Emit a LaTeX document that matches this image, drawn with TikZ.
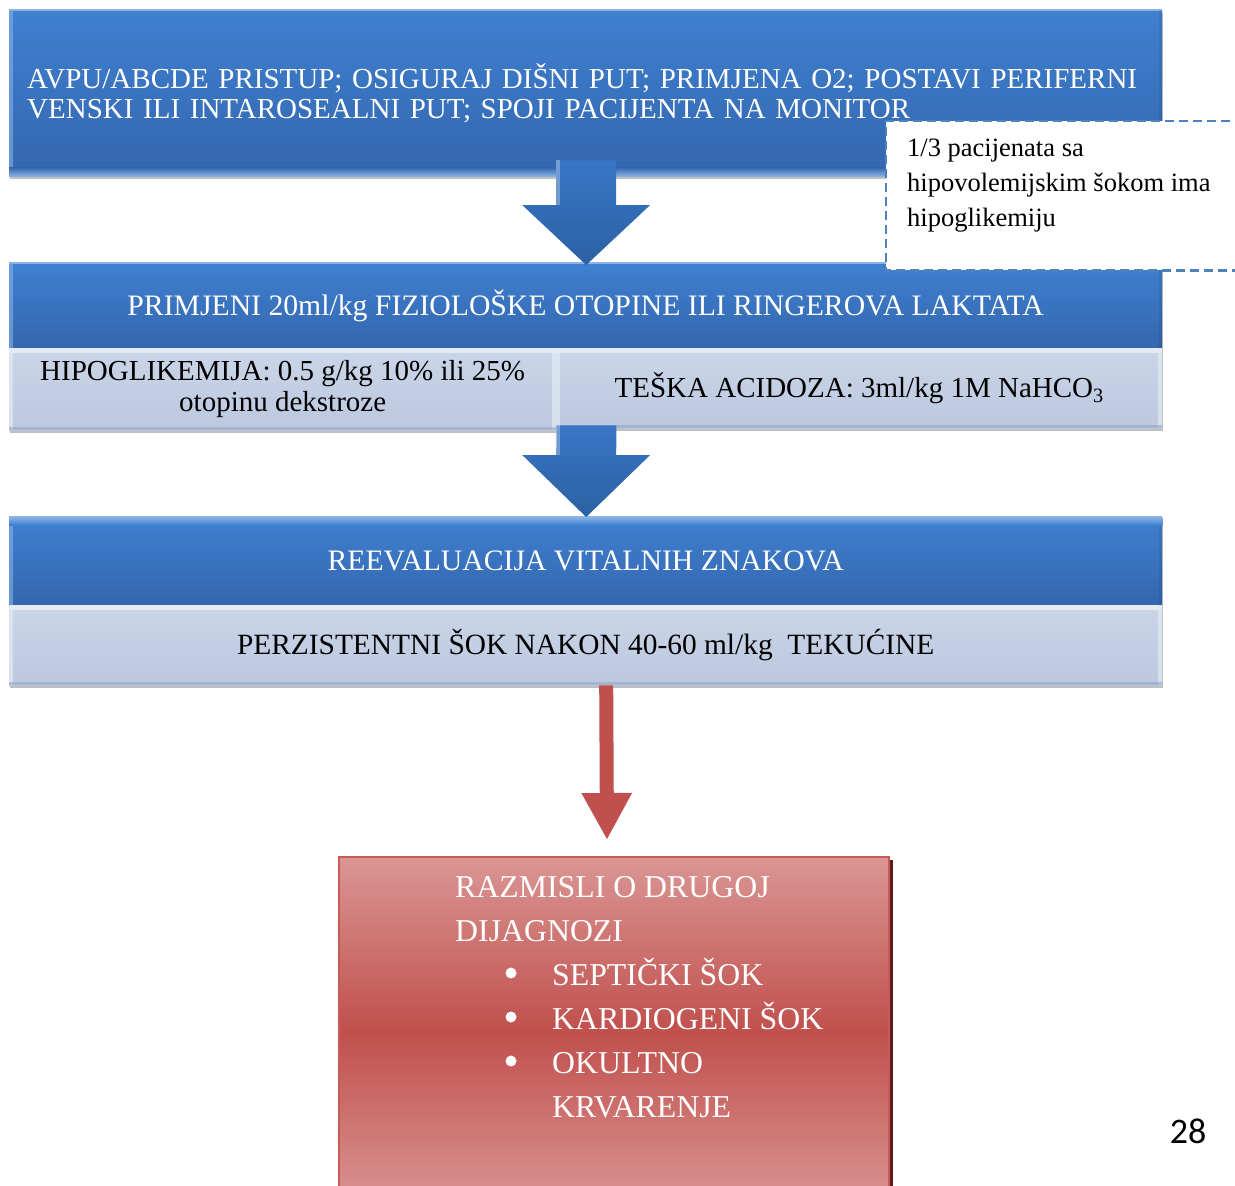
\documentclass[tikz,border=0pt]{standalone}
\usepackage{fontspec}
\setmainfont{Liberation Serif}
\newfontfamily\pagefont{Carlito}
\usetikzlibrary{calc,shadows,arrows.meta}
\definecolor{bTop}{HTML}{3F80D0}
\definecolor{bBot}{HTML}{3466AE}
\definecolor{bLight}{HTML}{8AB2E6}
\definecolor{lTop}{HTML}{CAD5E8}
\definecolor{lBot}{HTML}{BCC8DF}
\definecolor{lEdge}{HTML}{E4EAF4}
\definecolor{lDark}{HTML}{93A6C6}
\definecolor{aTop}{HTML}{3876C4}
\definecolor{aBot}{HTML}{2C60A4}
\definecolor{dashc}{HTML}{4F81BD}
\definecolor{rPink}{HTML}{DA9694}
\definecolor{rRed}{HTML}{C0504D}
\definecolor{rEdge}{HTML}{C65A57}
\definecolor{rShadow}{HTML}{5C1B19}
\pgfdeclareverticalshading{redgrad}{100bp}{color(0bp)=(rPink); color(25bp)=(rPink); color(50bp)=(rRed); color(75bp)=(rPink); color(100bp)=(rPink)}
\newcommand\fsz[2]{\fontsize{#1}{#2}\selectfont}
\newcommand\bluebevel[1]{%
  \fill[bLight, opacity=.6] (#1.north west) rectangle ($(#1.south west)+(4,0)$);
  \draw[bLight, line width=1.5pt] (#1.north west) -- (#1.north east);
  \fill[black, opacity=.08] ($(#1.north east)+(-3,0)$) rectangle (#1.south east);}
\newcommand\lightbevel[1]{%
  \fill[lEdge] (#1.north west) rectangle ($(#1.north east)+(0,5)$);
  \fill[lEdge, opacity=.7] (#1.north west) rectangle ($(#1.south west)+(4,0)$);
  \fill[lEdge, opacity=.7] ($(#1.north east)+(-4,0)$) rectangle (#1.south east);
  \fill[lDark, opacity=.6] ($(#1.south west)+(0,-3)$) rectangle (#1.south east);}
\newcommand\blockarrow[3]{%
  \shade[top color=aTop, bottom color=aBot] (#1) ++(-30,0) -- ++(60,0) -- ($(#2)+(30,-#3)$) -- ($(#2)+(64,-#3)$) -- (#2) -- ($(#2)+(-64,-#3)$) -- ($(#2)+(-30,-#3)$) -- cycle;
  \fill[white, opacity=.3] (#1) ++(-30,0) rectangle ($(#2)+(-26,-#3)$);}

\begin{document}
\begin{tikzpicture}[x=1pt, y=-1pt,
  blueblk/.style={anchor=north west, inner sep=0pt, minimum width=1153pt,
    top color=bTop, bottom color=bBot, text=white, font=\fsz{29.7}{30},
    drop shadow={shadow xshift=1pt, shadow yshift=-3pt, opacity=.25, fill=black}},
  lightblk/.style={anchor=north west, inner sep=0pt, top color=lTop, bottom color=lBot,
    text=black, font=\fsz{29}{31}, align=center,
    drop shadow={shadow xshift=1pt, shadow yshift=-3pt, opacity=.25, fill=black}},
  dashline/.style={draw=dashc, line width=2.6pt, dash pattern=on 9pt off 5pt},
  redarrow/.style={draw=rRed, line width=14pt, -{Triangle[width=47pt, length=47pt]}},
  redblk/.style={anchor=north west, inner sep=0pt, minimum width=550pt, minimum height=350pt,
    shading=redgrad, draw=rEdge, line width=2pt,
    drop shadow={shadow xshift=4pt, shadow yshift=-3pt, fill=rShadow, opacity=1}},
  bulletdot/.style={fill=white}]
\useasboundingbox (0,0) rectangle (1235,1186);

% boxes
\node[blueblk, minimum height=166pt, text width=1117pt, inner xsep=18pt, align=left, font=\fsz{29}{30}] (b1) at (9,10)
  {AVPU/ABCDE PRISTUP; OSIGURAJ DIŠNI PUT; PRIMJENA O2; POSTAVI PERIFERNI\\VENSKI ILI INTAROSEALNI PUT; SPOJI PACIJENTA NA MONITOR};
\bluebevel{b1}
\shade[top color=bBot, bottom color=bLight] ($(b1.south west)+(0,-9)$) rectangle (b1.south east);

\node[blueblk, minimum height=85pt] (b2) at (9,263)
  {PRIMJENI 20ml/kg FIZIOLOŠKE OTOPINE ILI RINGEROVA LAKTATA};
\bluebevel{b2}

\node[lightblk, minimum width=547pt, minimum height=82pt] (s1) at (9,348)
  {HIPOGLIKEMIJA: 0.5 g/kg 10\% ili 25\%\\otopinu dekstroze};
\lightbevel{s1}
\node[lightblk, minimum width=606pt, minimum height=80pt] (s2) at (556,348)
  {TEŠKA ACIDOZA: 3ml/kg 1M NaHCO\textsubscript{3}};
\lightbevel{s2}

\node[blueblk, minimum height=88pt] (b3) at (9,517)
  {REEVALUACIJA VITALNIH ZNAKOVA};
\bluebevel{b3}
\shade[top color=bLight, bottom color=bTop] (b3.north west) rectangle ($(b3.north east)+(0,8)$);

\node[lightblk, minimum width=1153pt, minimum height=80pt, font=\fsz{29.4}{31}] (b4) at (9,605)
  {PERZISTENTNI ŠOK NAKON 40-60 ml/kg\ \ TEKUĆINE};
\lightbevel{b4}

% block arrows
\coordinate (a1s) at ($(b1.south)+(0.5,-16)$);
\coordinate (a1e) at ($(b2.north)+(0.5,2)$);
\blockarrow{a1s}{a1e}{60}
\coordinate (a2s) at ($(s1.south east)+(30,-5)$);
\coordinate (a2e) at ($(b3.north)+(0.5,0)$);
\blockarrow{a2s}{a2e}{62}

% note box
\node[anchor=north west, fill=white, inner sep=0pt, minimum width=400pt, minimum height=149pt] (note) at (886,121) {};
\draw[dashline] (note.north east) -- (note.north west) -- (note.south west) -- (note.south east);
\node[anchor=north west, inner sep=0pt, align=left, font=\fsz{26.5}{35}] (notetext) at ($(note.north west)+(21,18)$)
  {1/3 pacijenata sa\\hipovolemijskim šokom ima\\hipoglikemiju};

% red part
\node[redblk] (rb) at (338,856) {};
\coordinate (r1) at ($(b4.south)+(20.5,0)$);
\coordinate (r2) at ($(rb.north)+(-7,-16)$);
\draw[redarrow] (r1) -- (r2);
\node[anchor=north west, inner sep=0pt, align=left, text=white, font=\fsz{31.8}{44}] (rbtext) at ($(rb.north west)+(117,20)$)
  {RAZMISLI O DRUGOJ\\DIJAGNOZI\\
   \hspace*{97pt}SEPTIČKI ŠOK\\
   \hspace*{97pt}KARDIOGENI ŠOK\\
   \hspace*{97pt}OKULTNO\\
   \hspace*{97pt}KRVARENJE};
\fill[bulletdot] ($(rb.north west)+(173,117)$) circle (5.5pt);
\fill[bulletdot] ($(rb.north west)+(173,161)$) circle (5.5pt);
\fill[bulletdot] ($(rb.north west)+(173,205)$) circle (5.5pt);

\node[font=\pagefont\fsz{36}{40}] (pg) at (1188,1131) {28};
\end{tikzpicture}
\end{document}
